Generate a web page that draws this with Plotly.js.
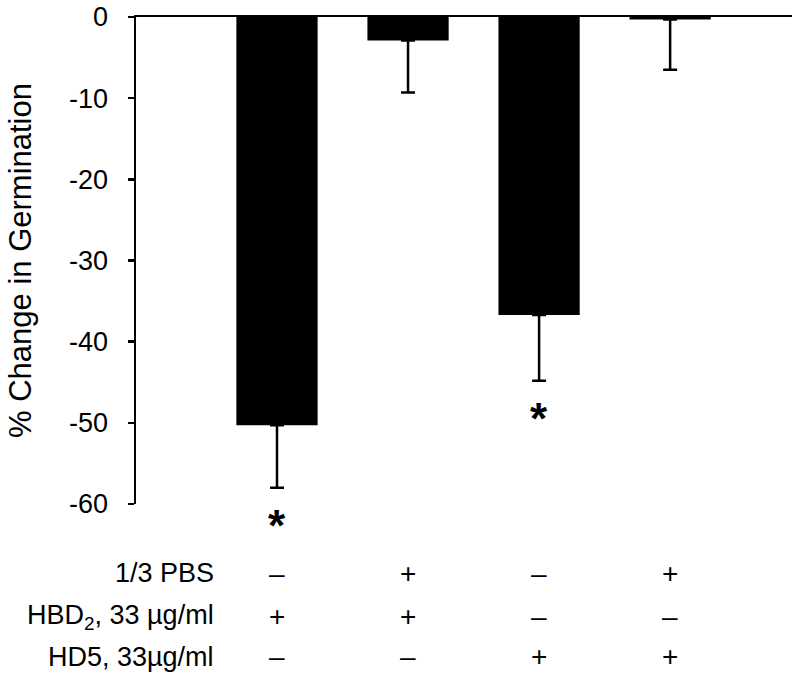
<!DOCTYPE html>
<html>
<head>
<meta charset="utf-8">
<script src="https://cdn.plot.ly/plotly-3.0.1.min.js"></script>
<style>html,body{margin:0;padding:0;background:#fff;}#chart{width:800px;height:681px;}</style>
</head>
<body>
<div id="chart"></div>
<script>
// Data
const groups = [0, 1, 2, 3];
const changePct = [-50.3, -2.9, -36.7, -0.3];
const errMinus = [7.7, 6.4, 8.1, 6.2];
const significant = [true, false, true, false];
const rowLabels = ["1/3 PBS", "HBD<sub>2</sub>, 33 µg/ml", "HD5, 33µg/ml"];
const rowPBS = ["–", "+", "–", "+"];
const rowHBD2 = ["+", "+", "–", "–"];
const rowHD5 = ["–", "–", "+", "+"];
const yTickVals = [0, -10, -20, -30, -40, -50, -60];
const yTickText = ["0", "-10", "-20", "-30", "-40", "-50", "-60"];

const FONT = "Liberation Sans, Arial, sans-serif";
const FS = 27;

const trace = {
  type: "bar",
  x: groups,
  y: changePct,
  marker: {color: "#000000", line: {width: 0}},
  error_y: {
    type: "data",
    symmetric: false,
    array: groups.map(() => 0),
    arrayminus: errMinus,
    visible: true,
    color: "#000000",
    thickness: 2.5,
    width: 7
  },
  hoverinfo: "none"
};

const annotations = [];
// significance asterisks below error bars
groups.forEach((g, i) => {
  if (significant[i]) {
    annotations.push({
      x: g, y: changePct[i] - errMinus[i], xref: "x", yref: "y",
      text: "<b>*</b>", showarrow: false, yanchor: "middle", xanchor: "center",
      yshift: -38, font: {family: FONT, size: 44, color: "#000"}
    });
  }
});
// treatment table rows
const rows = [rowPBS, rowHBD2, rowHD5];
const rowY = [-0.1417, -0.232, -0.314];
const labelRightPx = 216;
rows.forEach((row, r) => {
  annotations.push({
    x: (labelRightPx - 136) / 656, xref: "paper", y: rowY[r], yref: "paper",
    text: rowLabels[r], showarrow: false, xanchor: "right", yanchor: "middle",
    font: {family: FONT, size: FS, color: "#000"}
  });
  row.forEach((s, i) => {
    annotations.push({
      x: groups[i], xref: "x", y: rowY[r], yref: "paper",
      text: s, showarrow: false, xanchor: "center", yanchor: "middle",
      font: {family: FONT, size: 28, color: "#000"}
    });
  });
});

const layout = {
  width: 800, height: 681,
  margin: {l: 136, r: 8, t: 17, b: 177},
  paper_bgcolor: "#ffffff", plot_bgcolor: "#ffffff",
  showlegend: false,
  bargap: 0.38,
  font: {family: FONT, size: FS, color: "#000"},
  xaxis: {
    type: "linear", range: [-1.076, 3.93], side: "top",
    showline: true, linecolor: "#000", linewidth: 2.5,
    showgrid: false, zeroline: false, showticklabels: false, ticks: ""
  },
  yaxis: {
    range: [-60, 0], showline: true, linecolor: "#000", linewidth: 2.5,
    showgrid: false, zeroline: false,
    ticks: "outside", ticklen: 6, tickwidth: 2.5, tickcolor: "#000",
    tickvals: yTickVals, ticktext: yTickText,
    ticklabelstandoff: 14,
    tickfont: {family: FONT, size: FS, color: "#000"},
    title: {text: "% Change in Germination", font: {family: FONT, size: 31, color: "#000"}, standoff: 28}
  },
  annotations: annotations
};

Plotly.newPlot("chart", [trace], layout, {displayModeBar: false, staticPlot: true});
</script>
</body>
</html>
